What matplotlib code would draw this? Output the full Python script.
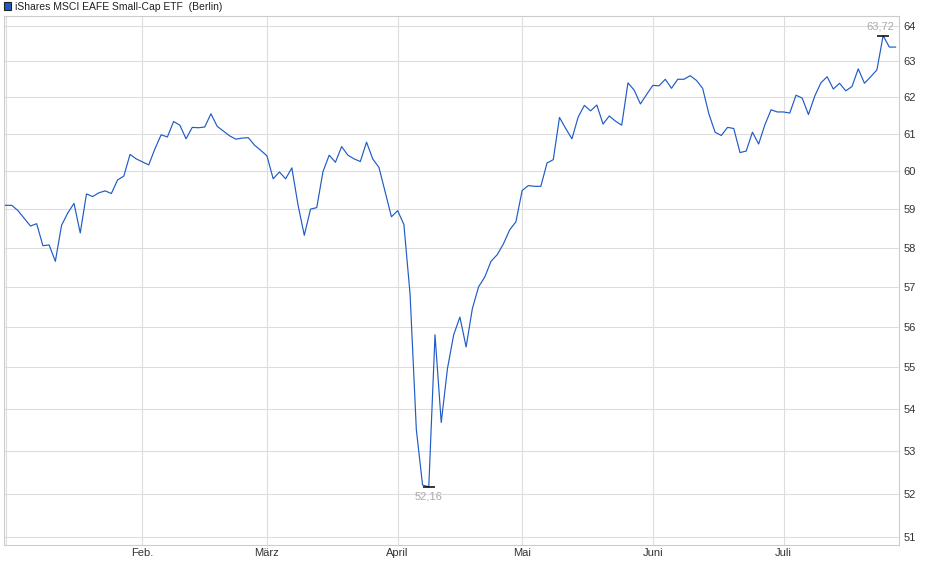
import matplotlib
matplotlib.use("Agg")
from matplotlib import pyplot as plt
from matplotlib.patches import Rectangle
from matplotlib.ticker import FixedLocator, FixedFormatter, NullLocator

title = "iShares MSCI EAFE Small-Cap ETF  (Berlin)"

# closing prices, one per trading day (Jan - Jul)
prices = [
    59.10, 59.10, 58.96, 58.76, 58.56, 58.62, 58.05, 58.07, 57.65, 58.58,
    58.90, 59.15, 58.38, 59.40, 59.33, 59.43, 59.48, 59.41, 59.77, 59.87,
    60.45, 60.33, 60.25, 60.17, 60.60, 60.98, 60.92, 61.34, 61.24, 60.87,
    61.18, 61.17, 61.19, 61.55, 61.21, 61.08, 60.95, 60.86, 60.89, 60.90,
    60.70, 60.56, 60.41, 59.80, 59.98, 59.80, 60.09, 59.10, 58.32, 59.00,
    59.04, 59.99, 60.43, 60.24, 60.66, 60.43, 60.33, 60.26, 60.78, 60.33,
    60.10, 59.45, 58.80, 58.96, 58.60, 56.80, 53.50, 52.20, 52.16, 55.80,
    53.67, 54.97, 55.80, 56.24, 55.50, 56.45, 57.00, 57.25, 57.65, 57.82,
    58.10, 58.46, 58.67, 59.49, 59.62, 59.60, 59.60, 60.22, 60.31, 61.45,
    61.15, 60.87, 61.46, 61.78, 61.63, 61.79, 61.27, 61.49, 61.35, 61.24,
    62.40, 62.20, 61.82, 62.08, 62.33, 62.32, 62.50, 62.25, 62.50, 62.50,
    62.60, 62.47, 62.25, 61.55, 61.05, 60.96, 61.18, 61.15, 60.50, 60.54,
    61.05, 60.73, 61.25, 61.66, 61.60, 61.60, 61.57, 62.06, 61.98, 61.53,
    62.03, 62.40, 62.57, 62.23, 62.39, 62.18, 62.30, 62.79, 62.39, 62.57,
    62.76, 63.72, 63.40, 63.40,
]

# first trading day of each month
month_idx = [0, 22, 42, 63, 83, 104, 125]
month_labels = ["", "Feb.", "März", "April", "Mai", "Juni", "Juli"]
y_ticks = list(range(51, 65))

line_color = "#1f5bc6"
grid_color = "#dddddd"

plt.rcParams["font.family"] = ["Liberation Sans", "DejaVu Sans"]

fig = plt.figure(figsize=(9.4, 5.79), dpi=100)
ax = fig.add_axes([4 / 940, 34 / 579, 895 / 940, 529 / 579])

x = list(range(len(prices)))
ax.plot(x, prices, color=line_color, lw=0.85, zorder=3)

ax.set_yscale("log")
ax.set_ylim(50.83, 64.28)
ax.set_xlim(-0.25, 143.55)

ax.yaxis.set_major_locator(FixedLocator(y_ticks))
ax.yaxis.set_major_formatter(FixedFormatter([str(v) for v in y_ticks]))
ax.yaxis.set_minor_locator(NullLocator())
ax.yaxis.tick_right()
ax.set_xticks(month_idx)
ax.set_xticklabels(month_labels)

ax.grid(True, color=grid_color, lw=0.8, zorder=0)
ax.tick_params(axis="both", length=0, labelsize=8, colors="#333333")
ax.tick_params(axis="y", pad=3)
ax.tick_params(axis="x", pad=2)
for s in ax.spines.values():
    s.set_color("#cccccc")
    s.set_linewidth(0.8)

# high / low markers
i_max = prices.index(max(prices))
i_min = prices.index(min(prices))
for i, off, va in [(i_max, 4, "bottom"), (i_min, -5, "top")]:
    ax.plot(i, prices[i], marker="_", ms=9, mew=1.1, color="black", zorder=4)
    ax.annotate(f"{prices[i]:.2f}".replace(".", ","), (i, prices[i]),
                xytext=(-3 if off > 0 else 0, off), textcoords="offset pixels",
                ha="center", va=va, fontsize=8, color="#aaaaaa")

# legend square + title
fig.add_artist(Rectangle((3.5 / 940, 1 - 9.5 / 579), 7 / 940, 7 / 579,
                         transform=fig.transFigure, facecolor=line_color,
                         edgecolor="#222222", lw=0.8))
fig.text(15 / 940, 1 - 6.5 / 579, title, fontsize=7.5, color="#222222",
         va="center", ha="left")

fig.savefig("out.png", dpi=100)
